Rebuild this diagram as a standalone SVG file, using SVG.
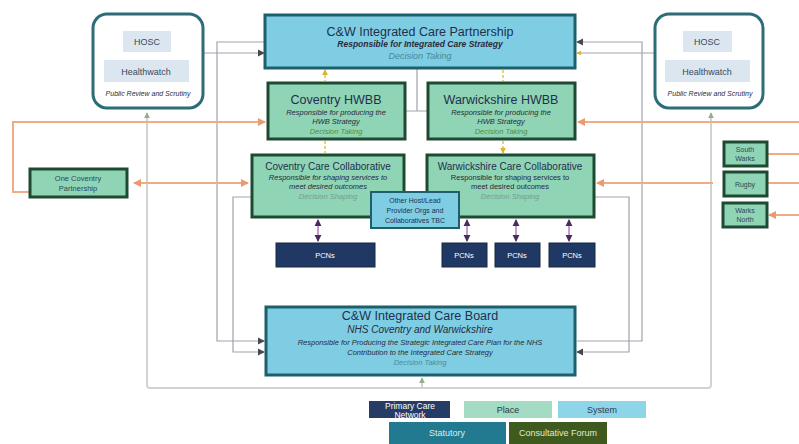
<svg xmlns="http://www.w3.org/2000/svg" width="799" height="444" viewBox="0 0 799 444">
<style>
text{font-family:"Liberation Sans",Arial,sans-serif;text-anchor:middle}
.sys{fill:#7ecde3;stroke:#1e5f6e;stroke-width:3}
.plc{fill:#8fd4b4;stroke:#1f4a32;stroke-width:3}
.pcn{fill:#1f3864;stroke:#18283f;stroke-width:1}
.hosc{fill:#fff;stroke:#2d6d78;stroke-width:3}
.inner{fill:#dbe6f0}
.t1{font-size:12.5px;fill:#1f2f4f}
.t2{font-size:10px;fill:#1f2f4f}
.it{font-style:italic;fill:#2a2a3a}
.dt{font-style:italic;fill:#4a8a98}
.dg{font-style:italic;fill:#4f8f3a}
.ds{font-style:italic;fill:#7a9a90}
.g{fill:none;stroke:#9ea3ab;stroke-width:1.2}
.lp{fill:none;stroke:#cdd5cd;stroke-width:2}
.o{fill:none;stroke:#f2ab84;stroke-width:2}
.y{fill:none;stroke:#e8c24a;stroke-width:1.5;stroke-dasharray:3 2}
.p{fill:none;stroke:#9a5fb0;stroke-width:1.2}
.wt{fill:#fff}
</style>
<defs>
<marker id="ag" viewBox="0 0 8 8" refX="7" refY="4" markerWidth="6" markerHeight="6" orient="auto-start-reverse"><path d="M0,0L8,4L0,8z" fill="#44484f"/></marker>
<marker id="al" viewBox="0 0 8 8" refX="7" refY="4" markerUnits="userSpaceOnUse" markerWidth="6" markerHeight="6" orient="auto-start-reverse"><path d="M0,0L8,4L0,8z" fill="#8fae8f"/></marker>
<marker id="ao" viewBox="0 0 8 8" refX="7" refY="4" markerWidth="4" markerHeight="4" orient="auto-start-reverse"><path d="M0,0L8,4L0,8z" fill="#eb9a70"/></marker>
<marker id="ay" viewBox="0 0 8 8" refX="7" refY="4" markerWidth="4" markerHeight="4" orient="auto-start-reverse"><path d="M0,0L8,4L0,8z" fill="#e0b030"/></marker>
<marker id="ap" viewBox="0 0 8 8" refX="7" refY="4" markerWidth="6" markerHeight="6" orient="auto-start-reverse"><path d="M0,0L8,4L0,8z" fill="#4a2a60"/></marker>
</defs>
<rect width="799" height="444" fill="#fff"/>

<g id="connectors">
<path class="lp" d="M147,113 V385 Q147,388 150,388 H708 Q711,388 711,385 V113" marker-start="url(#al)" marker-end="url(#al)"/>
<path class="lp" d="M422,388 V378" marker-end="url(#al)"/>
<path class="g" d="M203,53 H264" marker-end="url(#ag)"/>
<path class="g" d="M264,42 H217 V341 H264" marker-end="url(#ag)"/>
<path class="g" d="M252,197 H233 V352 H264" marker-end="url(#ag)"/>
<path class="g" d="M577,341 H642 V42 H577" marker-end="url(#ag)"/>
<path class="g" d="M594,197 H629 V352 H577" marker-end="url(#ag)"/>
<path class="g" d="M655,53 H577" marker-end="url(#ay)"/>
<path class="g" d="M417,68 V111 M405,111 H428"/>
<path class="o" d="M30,192 H13 V122 H265" marker-end="url(#ao)"/>
<path class="o" d="M134,183 H248" marker-start="url(#ao)" marker-end="url(#ao)"/>
<path class="o" d="M799,122 H578" marker-end="url(#ao)"/>
<path class="o" d="M713,183 H597" marker-end="url(#ao)"/>
<path class="o" d="M799,154 H768"/>
<path class="o" d="M799,183 H768"/>
<path class="o" d="M799,215 H769" marker-end="url(#ao)"/>
<path class="y" d="M325,70 V81 M503,70 V81 M325,141 V153 M503,141 V153" marker-start="url(#ay)" marker-end="url(#ay)"/>
<path class="p" d="M318,220 V241" marker-start="url(#ap)" marker-end="url(#ap)"/>
<path class="p" d="M467,220 V241" marker-start="url(#ap)" marker-end="url(#ap)"/>
<path class="p" d="M516,220 V241" marker-start="url(#ap)" marker-end="url(#ap)"/>
<path class="p" d="M569,220 V241" marker-start="url(#ap)" marker-end="url(#ap)"/>
</g>

<g id="hosc-left">
<rect class="hosc" x="93" y="14" width="110" height="94" rx="14"/>
<rect class="inner" x="123" y="31" width="48" height="21"/>
<text x="147" y="45" font-size="9" fill="#3a4a5a">HOSC</text>
<rect class="inner" x="104" y="60" width="85" height="22"/>
<text x="146" y="75" font-size="9" fill="#3a4a5a">Healthwatch</text>
<text x="148" y="96" font-size="7" class="it">Public Review and Scrutiny</text>
</g>

<g id="hosc-right">
<rect class="hosc" x="655" y="14" width="108" height="94" rx="14"/>
<rect class="inner" x="683" y="31" width="49" height="21"/>
<text x="707" y="45" font-size="9" fill="#3a4a5a">HOSC</text>
<rect class="inner" x="665" y="60" width="85" height="22"/>
<text x="707" y="75" font-size="9" fill="#3a4a5a">Healthwatch</text>
<text x="710" y="96" font-size="7" class="it">Public Review and Scrutiny</text>
</g>

<g id="icp">
<rect class="sys" x="265" y="15" width="310" height="53"/>
<text class="t1" x="420" y="36">C&amp;W Integrated Care Partnership</text>
<text x="420" y="47" font-size="8.5" class="it" font-weight="bold">Responsible for Integrated Care Strategy</text>
<text x="420" y="59" font-size="9" class="dt">Decision Taking</text>
</g>

<g id="coventry-hwbb">
<rect class="plc" x="268" y="83" width="137" height="56"/>
<text class="t1" x="336" y="104">Coventry  HWBB</text>
<text x="336" y="115" font-size="7.5" class="it">Responsible for producing the</text>
<text x="336" y="124" font-size="7.5" class="it">HWB Strategy</text>
<text x="336" y="134" font-size="7.5" class="dg">Decision Taking</text>
</g>

<g id="warwickshire-hwbb">
<rect class="plc" x="428" y="83" width="147" height="56"/>
<text class="t1" x="501" y="104">Warwickshire HWBB</text>
<text x="501" y="115" font-size="7.5" class="it">Responsible for producing the</text>
<text x="501" y="124" font-size="7.5" class="it">HWB Strategy</text>
<text x="501" y="134" font-size="7.5" class="dg">Decision Taking</text>
</g>

<g id="one-coventry">
<rect class="plc" x="30" y="169" width="97" height="28"/>
<text x="78" y="181" font-size="7.5" fill="#2a4a5a">One Coventry</text>
<text x="78" y="191" font-size="7.5" fill="#2a4a5a">Partnership</text>
</g>

<g id="coventry-cc">
<rect class="plc" x="252" y="155" width="152" height="62"/>
<text class="t2" x="328" y="170">Coventry Care Collaborative</text>
<text x="328" y="180" font-size="7.5" class="it">Responsible for shaping services to</text>
<text x="328" y="189" font-size="7.5" class="it">meet desired outcomes</text>
<text x="328" y="199" font-size="7.5" class="ds">Decision Shaping</text>
</g>

<g id="warwickshire-cc">
<rect class="plc" x="427" y="155" width="167" height="62"/>
<text class="t2" x="510" y="170">Warwickshire Care Collaborative</text>
<text x="510" y="180" font-size="7.5" fill="#2a2a3a">Responsible  for shaping services to</text>
<text x="510" y="189" font-size="7.5" fill="#2a2a3a">meet desired outcomes</text>
<text x="510" y="199" font-size="7.5" class="ds">Decision Shaping</text>
</g>

<g id="other-host">
<rect x="371" y="192" width="88" height="36" fill="#7ecde3" stroke="#1e5f6e" stroke-width="2"/>
<text x="415" y="203" font-size="7" fill="#1f2f4f">Other Host/Lead</text>
<text x="415" y="213" font-size="7" fill="#1f2f4f">Provider Orgs and</text>
<text x="415" y="223" font-size="7" fill="#1f2f4f">Collaboratives  TBC</text>
</g>

<g id="pcn-coventry">
<rect class="pcn" x="276" y="243" width="99" height="24"/>
<text x="325" y="258" font-size="7.5" class="wt">PCNs</text>
</g>
<g id="pcn-w1">
<rect class="pcn" x="442" y="243" width="45" height="24"/>
<text x="464" y="258" font-size="7.5" class="wt">PCNs</text>
</g>
<g id="pcn-w2">
<rect class="pcn" x="495" y="243" width="45" height="24"/>
<text x="517" y="258" font-size="7.5" class="wt">PCNs</text>
</g>
<g id="pcn-w3">
<rect class="pcn" x="549" y="243" width="46" height="24"/>
<text x="572" y="258" font-size="7.5" class="wt">PCNs</text>
</g>

<g id="south-warks">
<rect class="plc" x="724" y="142" width="43" height="24"/>
<text x="745" y="152" font-size="7" fill="#2a4a5a">South</text>
<text x="745" y="161" font-size="7" fill="#2a4a5a">Warks</text>
</g>
<g id="rugby">
<rect class="plc" x="724" y="172" width="43" height="24"/>
<text x="745" y="187" font-size="7" fill="#2a4a5a">Rugby</text>
</g>
<g id="warks-north">
<rect class="plc" x="723" y="203" width="44" height="24"/>
<text x="745" y="213" font-size="7" fill="#2a4a5a">Warks</text>
<text x="745" y="222" font-size="7" fill="#2a4a5a">North</text>
</g>

<g id="icb">
<rect class="sys" x="266" y="307" width="309" height="68"/>
<text class="t1" x="420" y="320">C&amp;W Integrated Care Board</text>
<text x="420" y="333" font-size="10" class="it">NHS Coventry and Warwickshire</text>
<text x="420" y="345" font-size="7.5" class="it">Responsible for Producing the Strategic Integrated Care Plan for the NHS</text>
<text x="420" y="355" font-size="7.5" class="it">Contribution to the Integrated Care Strategy</text>
<text x="420" y="365" font-size="7.5" class="dt">Decision Taking</text>
</g>

<g id="legend">
<rect x="369" y="401" width="81" height="17" fill="#243c66"/>
<text x="410" y="409" font-size="8.5" class="wt">Primary Care</text>
<text x="410" y="418" font-size="8.5" class="wt">Network</text>
<rect x="464" y="401" width="88" height="17" fill="#a3dcc3"/>
<text x="508" y="413" font-size="9" fill="#2a3a40">Place</text>
<rect x="558" y="401" width="88" height="17" fill="#8ed5ea"/>
<text x="602" y="413" font-size="9" fill="#2a3a50">System</text>
<rect x="389" y="422" width="117" height="22" fill="#217a8f"/>
<text x="447" y="436" font-size="9" fill="#d8eef4">Statutory</text>
<rect x="509" y="422" width="98" height="22" fill="#3e5a1f"/>
<text x="558" y="436" font-size="9" fill="#e0ecd0">Consultative Forum</text>
</g>
</svg>
